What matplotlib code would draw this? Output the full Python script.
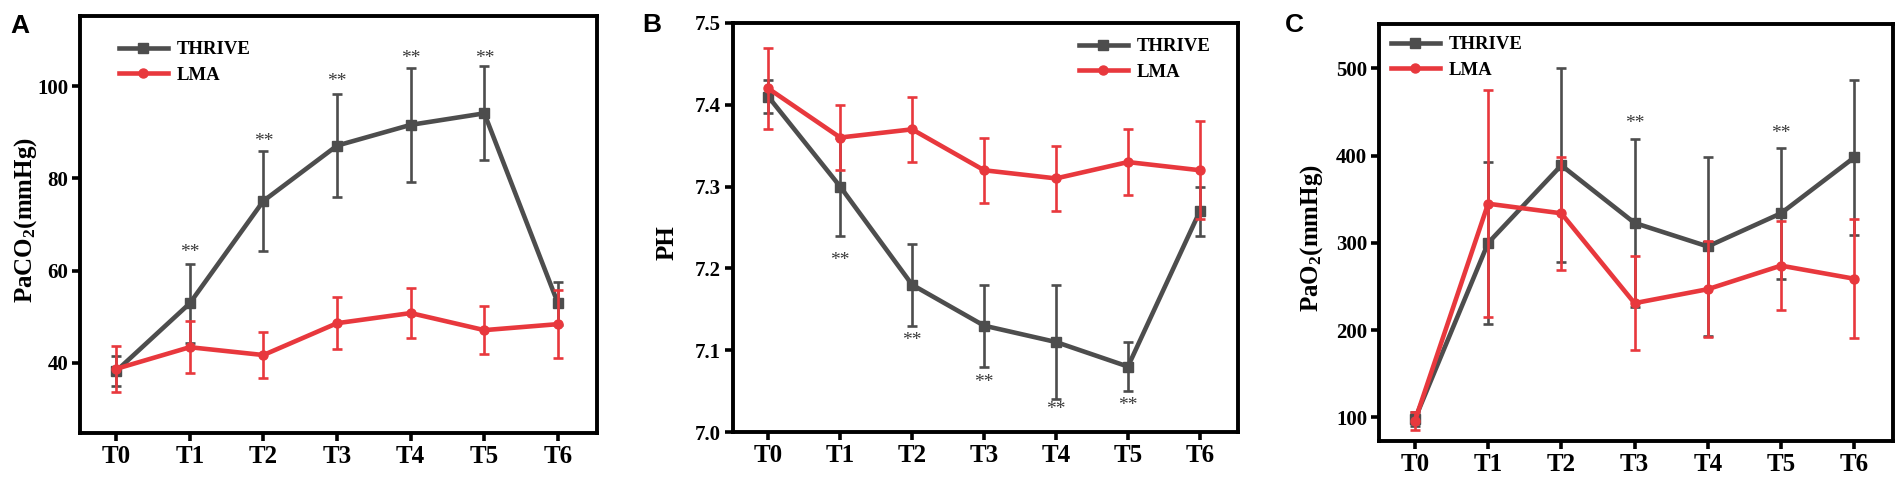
import matplotlib
matplotlib.use("Agg")
import matplotlib.pyplot as plt
from matplotlib.lines import Line2D
import numpy as np

plt.rcParams['font.family'] = ['Liberation Serif', 'DejaVu Serif']
plt.rcParams['font.weight'] = 'bold'
plt.rcParams['mathtext.fontset'] = 'custom'
plt.rcParams['mathtext.rm'] = 'Liberation Serif:bold'
plt.rcParams['mathtext.it'] = 'Liberation Serif:bold'
plt.rcParams['mathtext.bf'] = 'Liberation Serif:bold'

# ---------------- data ----------------
time_labels = ['T0', 'T1', 'T2', 'T3', 'T4', 'T5', 'T6']
series_names = ['THRIVE', 'LMA']

paco2_thrive = [38.2, 52.9, 75.1, 87.1, 91.6, 94.1, 52.9]
paco2_thrive_sd = [3.2, 8.6, 10.8, 11.2, 12.3, 10.2, 4.6]
paco2_lma = [38.7, 43.4, 41.7, 48.6, 50.8, 47.1, 48.4]
paco2_lma_sd = [5.0, 5.7, 5.0, 5.6, 5.4, 5.2, 7.3]
paco2_sig_idx = [1, 2, 3, 4, 5]
paco2_sig_y = [64.0, 87.9, 100.9, 105.9, 105.9]

ph_thrive = [7.41, 7.30, 7.18, 7.13, 7.11, 7.08, 7.27]
ph_thrive_sd = [0.02, 0.06, 0.05, 0.05, 0.07, 0.03, 0.03]
ph_lma = [7.42, 7.36, 7.37, 7.32, 7.31, 7.33, 7.32]
ph_lma_sd = [0.05, 0.04, 0.04, 0.04, 0.04, 0.04, 0.06]
ph_sig_idx = [1, 2, 3, 4, 5]
ph_sig_y = [7.210, 7.112, 7.060, 7.027, 7.033]

pao2_thrive = [98, 300, 389, 323, 296, 334, 398]
pao2_thrive_sd = [8, 93, 111, 96, 103, 75, 89]
pao2_lma = [96, 345, 334, 231, 247, 274, 259]
pao2_lma_sd = [10, 130, 65, 54, 55, 51, 68]
pao2_sig_idx = [3, 5]
pao2_sig_y = [436.8, 425.7]

GRAY = '#4d4d4d'
RED = '#e8383d'

W, H = 1901, 480
fig = plt.figure(figsize=(W / 100, H / 100), dpi=100)


def px_axes(l, t, r, b):
    return fig.add_axes([l / W, 1 - b / H, (r - l) / W, (b - t) / H])


panels = [
    dict(box=(80, 16, 597, 433), th=paco2_thrive, ths=paco2_thrive_sd, lm=paco2_lma, lms=paco2_lma_sd,
         ylim=(24.8, 115.2), yticks=[40, 60, 80, 100], fmt='{:.0f}', sig=(paco2_sig_idx, paco2_sig_y),
         ylabel='PaCO$_2$(mmHg)', ylab_xy=(26, 220), letter='A', letter_xy=(10, 14),
         leg_xy=(119, 41)),
    dict(box=(733, 23, 1238, 432), th=ph_thrive, ths=ph_thrive_sd, lm=ph_lma, lms=ph_lma_sd,
         ylim=(7.0, 7.5), yticks=[7.0, 7.1, 7.2, 7.3, 7.4, 7.5], fmt='{:.1f}', sig=(ph_sig_idx, ph_sig_y),
         ylabel='PH', ylab_xy=(667, 243), letter='B', letter_xy=(642, 13),
         leg_xy=(1079, 38)),
    dict(box=(1379, 24, 1893, 441), th=pao2_thrive, ths=pao2_thrive_sd, lm=pao2_lma, lms=pao2_lma_sd,
         ylim=(73, 551), yticks=[100, 200, 300, 400, 500], fmt='{:.0f}', sig=(pao2_sig_idx, pao2_sig_y),
         ylabel='PaO$_2$(mmHg)', ylab_xy=(1312, 238), letter='C', letter_xy=(1285, 13),
         leg_xy=(1391, 36)),
]

x = np.arange(len(time_labels))

for p in panels:
    l, t, r, b = p['box']
    ax = px_axes(l, t, r, b)
    ax.errorbar(x, p['th'], yerr=p['ths'], color=GRAY, lw=3.3, marker='s', ms=6.5,
                elinewidth=1.9, capsize=3.5, capthick=1.9, zorder=2)
    ax.errorbar(x, p['lm'], yerr=p['lms'], color=RED, lw=3.3, marker='o', ms=6.5,
                elinewidth=1.9, capsize=3.5, capthick=1.9, zorder=3)
    for i, yv in zip(*p['sig']):
        ax.text(x[i], yv, '**', ha='center', va='center', fontsize=14, fontweight='normal',
                color='#3a3a3a', zorder=4)
    ax.set_xlim(-0.49, 6.53)
    ax.set_ylim(*p['ylim'])
    ax.set_xticks(x)
    ax.set_xticklabels(time_labels, fontsize=18, fontweight='bold')
    ax.set_yticks(p['yticks'])
    ax.set_yticklabels([p['fmt'].format(v) for v in p['yticks']], fontsize=15, fontweight='bold')
    ax.tick_params(axis='both', direction='out', length=5.5, width=2.6)
    ax.tick_params(axis='x', pad=3)
    ax.tick_params(axis='y', pad=3)
    for s in ax.spines.values():
        s.set_linewidth(2.8)
        s.set_color('black')
    handles = [Line2D([], [], color=GRAY, lw=3.3, marker='s', ms=6.5),
               Line2D([], [], color=RED, lw=3.3, marker='o', ms=6.5)]
    lx, ly = p['leg_xy']
    ax.legend(handles, series_names, loc='upper left',
              bbox_to_anchor=((lx - l) / (r - l), 1 - (ly - t) / (b - t)),
              frameon=False, borderpad=0, borderaxespad=0, handlelength=2.6,
              handletextpad=0.5, labelspacing=0.45,
              prop={'family': 'Liberation Serif', 'weight': 'bold', 'size': 13.5})
    fig.text(p['ylab_xy'][0] / W, 1 - p['ylab_xy'][1] / H, p['ylabel'], rotation=90,
             ha='center', va='center', fontsize=18, fontweight='bold')
    fig.text(p['letter_xy'][0] / W, 1 - p['letter_xy'][1] / H, p['letter'], ha='left', va='top',
             fontsize=19, fontweight='bold', family='Liberation Sans')

fig.savefig('out.png', dpi=100)
